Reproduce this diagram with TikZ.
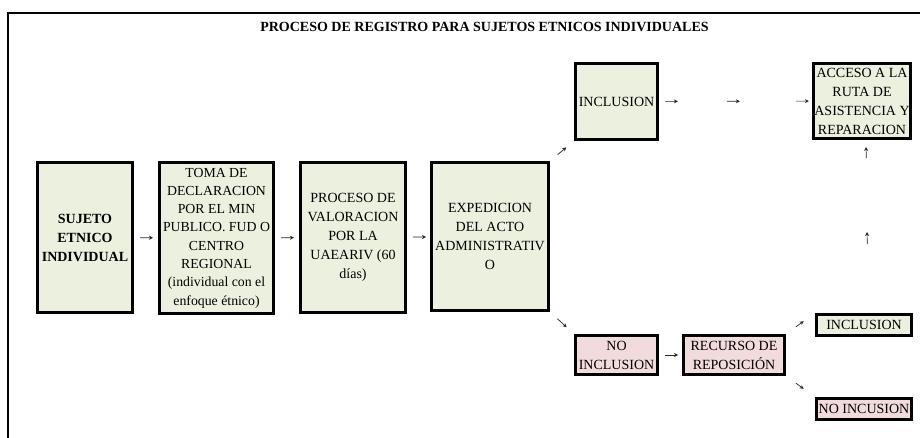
\documentclass[tikz,border=0pt]{standalone}
\usepackage{fontspec}
\setmainfont{Liberation Serif}
\usetikzlibrary{arrows.meta}

\definecolor{verde}{HTML}{EBF1DE}
\definecolor{rosa}{HTML}{F2DCDB}

\begin{document}
\begin{tikzpicture}[
  x=1pt, y=-1pt,
  every node/.style={font=\fontsize{14}{19}\selectfont, align=center, inner sep=1pt},
  paso/.style={rectangle, draw=black, line width=3pt, fill=verde},
  nopaso/.style={paso, fill=rosa},
  flecha/.style={-{Stealth[length=4pt,width=4pt]}, line width=0.7pt, black!85},
]
\useasboundingbox (0,0) rectangle (920,438);

% marco y titulo
\draw[line width=2pt] (8,438) -- (8,13) -- (920,13);
\node[font=\fontsize{14}{16}\selectfont\bfseries] (titulo) at (484.5,27) {PROCESO DE REGISTRO PARA SUJETOS ETNICOS INDIVIDUALES};

% fila principal
\node[paso, minimum width=95, minimum height=150, font=\fontsize{14}{19}\selectfont\bfseries] (sujeto) at (85,237.5) {SUJETO\\ETNICO\\INDIVIDUAL};
\node[paso, minimum width=114, minimum height=150, font=\fontsize{13.8}{18.3}\selectfont] (toma) at (216.5,238) {TOMA DE\\DECLARACION\\POR EL MIN\\PUBLICO. FUD O\\CENTRO\\REGIONAL\\(individual con el\\enfoque étnico)};
\node[paso, minimum width=105, minimum height=150] (valora) at (353,237.5) {PROCESO DE\\VALORACION\\POR LA\\UAEARIV (60\\días)};
\node[paso, minimum width=117, minimum height=148] (expide) at (490,236.5) {EXPEDICION\\DEL ACTO\\ADMINISTRATIV\\O};

% ramas
\node[paso, minimum width=82, minimum height=76] (incl) at (616.5,101.5) {INCLUSION};
\node[paso, minimum width=97, minimum height=75] (acceso) at (862,101) {ACCESO A LA\\RUTA DE\\ASISTENCIA Y\\REPARACION};
\node[nopaso, minimum width=82, minimum height=39] (noincl) at (616.5,355) {NO\\INCLUSION};
\node[nopaso, minimum width=101, minimum height=39] (recurso) at (734,355) {RECURSO DE\\REPOSICIÓN};
\node[paso, minimum width=95, minimum height=21] (incl2) at (864,325) {INCLUSION};
\node[nopaso, minimum width=95, minimum height=21] (noincus) at (864,409) {NO INCUSION};

% flechas
\draw[flecha, shorten <=6pt, shorten >=5pt] (sujeto) -- (toma);
\draw[flecha, shorten <=6pt, shorten >=5pt] (toma) -- (valora);
\draw[flecha, shorten <=6pt, shorten >=4pt] (valora) -- (expide);
\draw[flecha, shorten <=10pt, shorten >=10pt] (expide.north east) -- (incl.south west);
\draw[flecha, shorten <=10pt, shorten >=10pt] (expide.south east) -- (noincl.north west);
\draw[flecha, shorten <=6pt, shorten >=134pt] (incl) -- (acceso);
\draw[flecha, shorten <=68pt, shorten >=72pt] (incl) -- (acceso);
\draw[flecha, shorten <=137pt, shorten >=3pt] (incl) -- (acceso);
\draw[flecha, shorten <=6pt, shorten >=4pt] (noincl) -- (recurso);
\draw[flecha, shorten <=12pt, shorten >=14pt] (recurso.north east) -- (incl2.north west);
\draw[flecha, shorten <=12pt, shorten >=14pt] (recurso.south east) -- (noincus.north west);
\draw[flecha, shorten <=155pt, shorten >=7pt] ([xshift=4pt]incl2.north) -- ([xshift=4pt]acceso.south);
\draw[flecha, shorten <=69pt, shorten >=92pt] ([xshift=4pt]incl2.north) -- ([xshift=4pt]acceso.south);

\end{tikzpicture}
\end{document}
